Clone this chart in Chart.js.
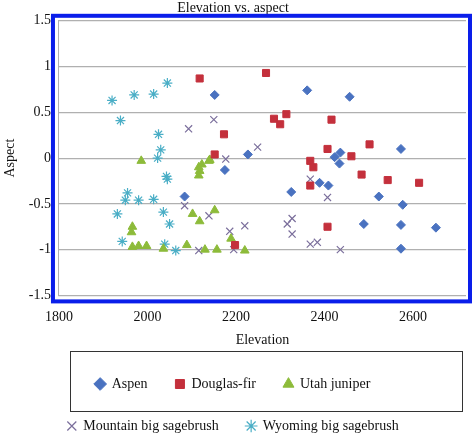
<!DOCTYPE html>
<html>
<head>
<meta charset="utf-8">
<script src="https://cdn.jsdelivr.net/npm/chart.js@4"></script>
<style>
  html, body { margin: 0; padding: 0; background: #fff; }
  #wrap { width: 474px; height: 443px; }
</style>
</head>
<body>
<div id="wrap"><canvas id="myChart"></canvas></div>
<script>
const aspenX = [2152, 2175, 2227, 2084, 2361, 2457, 2325, 2389, 2409, 2423, 2436, 2434, 2573, 2523, 2577, 2489, 2573, 2652, 2573];
const aspenY = [0.69, -0.13, 0.04, -0.42, 0.74, 0.67, -0.37, -0.27, -0.30, 0.01, 0.06, -0.06, 0.10, -0.42, -0.51, -0.72, -0.73, -0.76, -0.99];

const firX = [2118, 2173, 2152, 2198, 2268, 2286, 2300, 2314, 2416, 2407, 2368, 2375, 2368, 2461, 2502, 2484, 2543, 2614, 2407];
const firY = [0.87, 0.26, 0.04, -0.95, 0.93, 0.43, 0.37, 0.48, 0.42, 0.10, -0.03, -0.10, -0.30, 0.02, 0.15, -0.18, -0.24, -0.27, -0.75];

const juniperX = [1986, 2116, 2118, 2123, 2139, 2141, 2116, 1966, 1964, 1966, 1980, 1998, 2036, 2089, 2130, 2157, 2102, 2118, 2152, 2189, 2220];
const juniperY = [-0.03, -0.10, -0.14, -0.07, -0.03, -0.02, -0.19, -0.75, -0.81, -0.97, -0.96, -0.96, -0.99, -0.95, -1.0, -1.0, -0.61, -0.69, -0.57, -0.88, -1.01];

const mountainX = [2093, 2150, 2177, 2249, 2084, 2139, 2186, 2220, 2116, 2195, 2316, 2327, 2327, 2368, 2384, 2436, 2368, 2407];
const mountainY = [0.32, 0.42, -0.01, 0.12, -0.52, -0.63, -0.80, -0.74, -1.01, -1.0, -0.72, -0.66, -0.83, -0.94, -0.92, -1.0, -0.23, -0.43];

const wyomingX = [1920, 1970, 2014, 2045, 1939, 2025, 2030, 2023, 2043, 2045, 1955, 1950, 1980, 2014, 1932, 2036, 2050, 1943, 2039, 2064];
const wyomingY = [0.63, 0.69, 0.70, 0.82, 0.41, 0.26, 0.09, 0.0, -0.20, -0.23, -0.38, -0.46, -0.46, -0.45, -0.61, -0.59, -0.72, -0.91, -0.94, -1.01];

const xTicks = [1800, 2000, 2200, 2400, 2600];
const yTicks = [-1.5, -1, -0.5, 0, 0.5, 1, 1.5];

function pts(xs, ys) {
  return xs.map(function (x, i) { return { x: x, y: ys[i] }; });
}

const serif = "'Liberation Serif', 'DejaVu Serif', serif";

// blue frame over the plot and a box around the legend
const framePlugin = {
  id: "frame",
  afterDraw: function (chart) {
    const ctx = chart.ctx;
    const a = chart.chartArea;
    ctx.save();
    ctx.strokeStyle = "#0a1eea";
    ctx.lineWidth = 4;
    ctx.strokeRect(a.left - 6, a.top - 5, a.right - a.left + 10, a.bottom - a.top + 11);
    const lg = chart.legend;
    ctx.strokeStyle = "#333";
    ctx.lineWidth = 1;
    ctx.strokeRect(70.5, lg.top + 2.5, 392, 60);
    ctx.restore();
  }
};

function ds(label, xs, ys, style, color, r) {
  return {
    label: label,
    data: pts(xs, ys),
    pointStyle: style,
    pointRadius: r,
    backgroundColor: color,
    borderColor: color,
    borderWidth: style === "crossRot" || style === "star" ? 1.2 : 1
  };
}

new Chart(document.getElementById("myChart"), {
  type: "scatter",
  data: {
    datasets: [
      ds("Aspen", aspenX, aspenY, "rectRot", "#4a72c0", 4.5),
      ds("Douglas-fir", firX, firY, "rect", "#c4303c", 5),
      ds("Utah juniper", juniperX, juniperY, "triangle", "#8dbb3a", 5),
      ds("Mountain big sagebrush", mountainX, mountainY, "crossRot", "#7b6f9c", 5),
      ds("Wyoming big sagebrush", wyomingX, wyomingY, "star", "#4aaec6", 5)
    ]
  },
  options: {
    responsive: true,
    maintainAspectRatio: false,
    animation: false,
    layout: { padding: { top: 0, right: 8, left: 0, bottom: 0 } },
    plugins: {
      title: {
        display: true,
        text: "Elevation vs. aspect",
        color: "#111",
        font: { family: serif, size: 14, weight: "normal" },
        padding: { top: 0, bottom: 4 }
      },
      legend: {
        position: "bottom",
        labels: {
          usePointStyle: true,
          boxWidth: 9,
          boxHeight: 9,
          padding: 28,
          color: "#111",
          font: { family: serif, size: 14 }
        }
      },
      tooltip: { enabled: false }
    },
    scales: {
      x: {
        type: "linear",
        min: 1800,
        max: 2720,
        afterBuildTicks: function (s) { s.ticks = xTicks.map(function (v) { return { value: v }; }); },
        grid: { display: false },
        border: { display: false },
        ticks: { color: "#111", padding: 6, font: { family: serif, size: 14 }, callback: function (v) { return String(v); } },
        title: { display: true, text: "Elevation", color: "#111", padding: { top: 0, bottom: 0 }, font: { family: serif, size: 14 } }
      },
      y: {
        min: -1.5,
        max: 1.5,
        afterBuildTicks: function (s) { s.ticks = yTicks.map(function (v) { return { value: v }; }); },
        grid: { color: "#b0b0b0", lineWidth: 1.2, drawTicks: false },
        border: { display: true, color: "#b0b0b0" },
        ticks: { color: "#111", padding: 8, font: { family: serif, size: 14 }, callback: function (v) { return String(v); } },
        title: { display: true, text: "Aspect", color: "#111", padding: 2, font: { family: serif, size: 14 } }
      }
    }
  },
  plugins: [framePlugin]
});
</script>
</body>
</html>
